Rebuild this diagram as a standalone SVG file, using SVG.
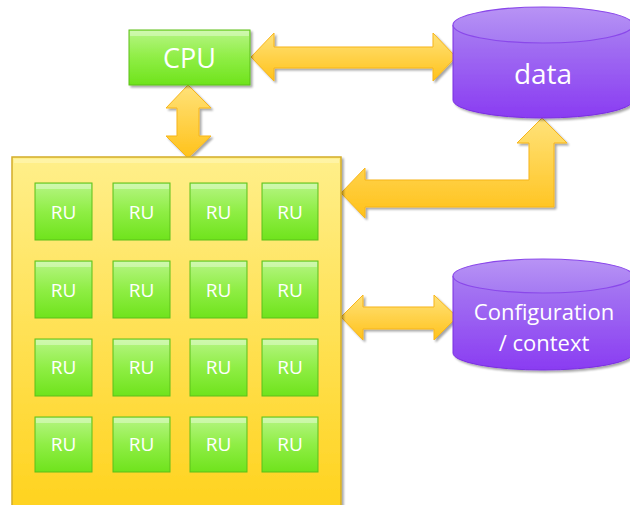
<svg xmlns="http://www.w3.org/2000/svg" width="630" height="505" viewBox="0 0 630 505">
  <defs>
    <linearGradient id="gPanel" x1="0" y1="0" x2="0" y2="1">
      <stop offset="0" stop-color="#ffef8a"/>
      <stop offset="1" stop-color="#ffd21c"/>
    </linearGradient>
    <linearGradient id="gGreen" x1="0" y1="0" x2="0" y2="1">
      <stop offset="0" stop-color="#b6f584"/>
      <stop offset="0.5" stop-color="#8fee45"/>
      <stop offset="1" stop-color="#6fe31c"/>
    </linearGradient>
    <linearGradient id="gArrow" x1="0" y1="0" x2="0" y2="1">
      <stop offset="0" stop-color="#ffe27a"/>
      <stop offset="1" stop-color="#ffc21a"/>
    </linearGradient>
    <linearGradient id="gPurple" x1="0" y1="0" x2="0" y2="1">
      <stop offset="0" stop-color="#a77cf2"/>
      <stop offset="1" stop-color="#8a3cf2"/>
    </linearGradient>
    <linearGradient id="gPurpleTop" x1="0" y1="0" x2="0" y2="1">
      <stop offset="0" stop-color="#b893f5"/>
      <stop offset="1" stop-color="#a57af2"/>
    </linearGradient>
    <filter id="shadow" x="-10%" y="-10%" width="130%" height="130%">
      <feGaussianBlur in="SourceAlpha" stdDeviation="1.2"/>
      <feOffset dx="2" dy="2" result="o"/>
      <feComponentTransfer><feFuncA type="linear" slope="0.35"/></feComponentTransfer>
      <feMerge><feMergeNode/><feMergeNode in="SourceGraphic"/></feMerge>
    </filter>
  </defs>
  <style>
    .ru rect.b { fill: url(#gGreen); stroke: #5cbf1a; stroke-width: 1; }
    .ru rect.h { fill: #ffffff; opacity: 0.35; }
    .ru text { font-family: "Open Sans", "Liberation Sans", sans-serif; font-size: 19px; fill: #ffffff; text-anchor: middle; }
    .arrow { fill: url(#gArrow); stroke: #f7b51a; stroke-width: 1; filter: url(#shadow); }
    .lbl { font-family: "Open Sans", "Liberation Sans", sans-serif; fill: #ffffff; text-anchor: middle; }
    .cyl { fill: url(#gPurple); stroke: #7a30e0; stroke-width: 1; }
    .cyltop { fill: url(#gPurpleTop); stroke: #8a48ea; stroke-width: 1.2; }
  </style>

  <!-- connectors -->
  <g id="connectors">
    <!-- CPU <-> data -->
    <path class="arrow" d="M251,57 L274,33 L274,47 L433,47 L433,33 L456,57 L433,81 L433,68 L274,68 L274,81 Z"/>
    <!-- CPU <-> array -->
    <path class="arrow" d="M188,85 L211,108 L199,108 L199,136 L211,136 L188,158 L166,136 L177,136 L177,108 L166,108 Z"/>
    <!-- array <-> data (elbow) -->
    <path class="arrow" d="M341,193 L365,168 L365,180 L529,180 L529,143 L517,143 L542,118 L567,143 L554,143 L554,207 L365,207 L365,218 Z"/>
    <!-- array <-> configuration -->
    <path class="arrow" d="M341,317 L363,295 L363,307 L434,307 L434,295 L457,317 L434,340 L434,329 L363,329 L363,340 Z"/>
  </g>

  <!-- reconfigurable array -->
  <g id="array">
    <rect x="12" y="157" width="329" height="360" fill="url(#gPanel)" stroke="#d4ad2a" stroke-width="1.5" filter="url(#shadow)"/>
    <rect x="14" y="159" width="325" height="4" fill="#fff6b8" opacity="0.6"/>
  </g>

  <g id="ru-grid">
    <g class="ru" id="ru-1-1"><rect class="b" x="35" y="183" width="57" height="57"/><rect class="h" x="36" y="184" width="55" height="5"/><text x="63.5" y="219">RU</text></g>
    <g class="ru" id="ru-1-2"><rect class="b" x="113" y="183" width="57" height="57"/><rect class="h" x="114" y="184" width="55" height="5"/><text x="141.5" y="219">RU</text></g>
    <g class="ru" id="ru-1-3"><rect class="b" x="190" y="183" width="57" height="57"/><rect class="h" x="191" y="184" width="55" height="5"/><text x="218.5" y="219">RU</text></g>
    <g class="ru" id="ru-1-4"><rect class="b" x="262" y="183" width="56" height="57"/><rect class="h" x="263" y="184" width="54" height="5"/><text x="290" y="219">RU</text></g>

    <g class="ru" id="ru-2-1"><rect class="b" x="35" y="261" width="57" height="57"/><rect class="h" x="36" y="262" width="55" height="5"/><text x="63.5" y="297">RU</text></g>
    <g class="ru" id="ru-2-2"><rect class="b" x="113" y="261" width="57" height="57"/><rect class="h" x="114" y="262" width="55" height="5"/><text x="141.5" y="297">RU</text></g>
    <g class="ru" id="ru-2-3"><rect class="b" x="190" y="261" width="57" height="57"/><rect class="h" x="191" y="262" width="55" height="5"/><text x="218.5" y="297">RU</text></g>
    <g class="ru" id="ru-2-4"><rect class="b" x="262" y="261" width="56" height="57"/><rect class="h" x="263" y="262" width="54" height="5"/><text x="290" y="297">RU</text></g>

    <g class="ru" id="ru-3-1"><rect class="b" x="35" y="339" width="57" height="57"/><rect class="h" x="36" y="340" width="55" height="5"/><text x="63.5" y="374">RU</text></g>
    <g class="ru" id="ru-3-2"><rect class="b" x="113" y="339" width="57" height="57"/><rect class="h" x="114" y="340" width="55" height="5"/><text x="141.5" y="374">RU</text></g>
    <g class="ru" id="ru-3-3"><rect class="b" x="190" y="339" width="57" height="57"/><rect class="h" x="191" y="340" width="55" height="5"/><text x="218.5" y="374">RU</text></g>
    <g class="ru" id="ru-3-4"><rect class="b" x="262" y="339" width="56" height="57"/><rect class="h" x="263" y="340" width="54" height="5"/><text x="290" y="374">RU</text></g>

    <g class="ru" id="ru-4-1"><rect class="b" x="35" y="417" width="57" height="55"/><rect class="h" x="36" y="418" width="55" height="5"/><text x="63.5" y="451">RU</text></g>
    <g class="ru" id="ru-4-2"><rect class="b" x="113" y="417" width="57" height="55"/><rect class="h" x="114" y="418" width="55" height="5"/><text x="141.5" y="451">RU</text></g>
    <g class="ru" id="ru-4-3"><rect class="b" x="190" y="417" width="57" height="55"/><rect class="h" x="191" y="418" width="55" height="5"/><text x="218.5" y="451">RU</text></g>
    <g class="ru" id="ru-4-4"><rect class="b" x="262" y="417" width="56" height="55"/><rect class="h" x="263" y="418" width="54" height="5"/><text x="290" y="451">RU</text></g>
  </g>

  <!-- CPU -->
  <g id="cpu" class="ru">
    <rect class="b" x="129" y="30" width="121" height="55" filter="url(#shadow)"/>
    <rect class="h" x="130" y="31" width="119" height="5"/>
    <text class="lbl" x="189.5" y="68" style="font-size:27px">CPU</text>
  </g>

  <!-- data store -->
  <g id="data">
    <path class="cyl" d="M453,25 L453,100 A90,18 0 0 0 633,100 L633,25 Z" filter="url(#shadow)"/>
    <ellipse class="cyltop" cx="543" cy="25" rx="90" ry="18"/>
    <text class="lbl" x="543" y="84" style="font-size:28px">data</text>
  </g>

  <!-- configuration / context store -->
  <g id="config">
    <path class="cyl" d="M453,276 L453,353 A90,17 0 0 0 633,353 L633,276 Z" filter="url(#shadow)"/>
    <ellipse class="cyltop" cx="543" cy="276" rx="90" ry="17"/>
    <text class="lbl" x="544" y="320" style="font-size:22px">Configuration</text>
    <text class="lbl" x="544" y="351" style="font-size:22px">/ context</text>
  </g>
</svg>
